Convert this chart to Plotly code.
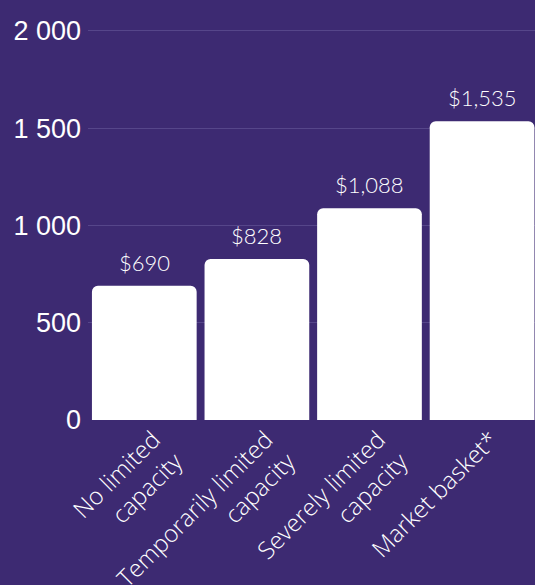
import plotly.graph_objects as go

categories = ["No limited<br>capacity", "Temporarily limited<br>capacity",
              "Severely limited<br>capacity", "Market basket*"]
values = [690, 828, 1088, 1535]
bar_labels = [f"${v:,}" for v in values]

BG = "#3d2a72"

fig = go.Figure(go.Bar(
    x=categories, y=values,
    marker=dict(color="white", cornerradius=6, line=dict(width=0)),
    cliponaxis=False,
))

for c, v, lab in zip(categories, values, bar_labels):
    fig.add_annotation(
        x=c, y=v, text=lab, showarrow=False,
        yanchor="bottom", yshift=8,
        font=dict(family="Lato", size=22, color="white", weight=300),
    )

fig.update_layout(
    width=535, height=585,
    margin=dict(l=88, r=0, t=27, b=165, autoexpand=False),
    paper_bgcolor=BG, plot_bgcolor=BG,
    separators=". ",
    bargap=0.07,
    showlegend=False,
    xaxis=dict(
        range=[-0.5, 3.47],
        tickangle=-45,
        automargin=False,
        ticklabelshift=9,
        tickfont=dict(family="Open Sans", size=24, color="white", weight=300),
        showgrid=False, zeroline=False, showline=False, ticks="",
    ),
    yaxis=dict(
        range=[0, 2020],
        automargin=False,
        tickvals=[0, 500, 1000, 1500, 2000],
        tickformat=",d",
        tickfont=dict(family="Liberation Sans", size=27, color="white"),
        gridcolor="#56468a", gridwidth=1,
        zeroline=False, showline=False, ticks="",
        ticklabelstandoff=6,
    ),
)

fig.write_html("out.html")
